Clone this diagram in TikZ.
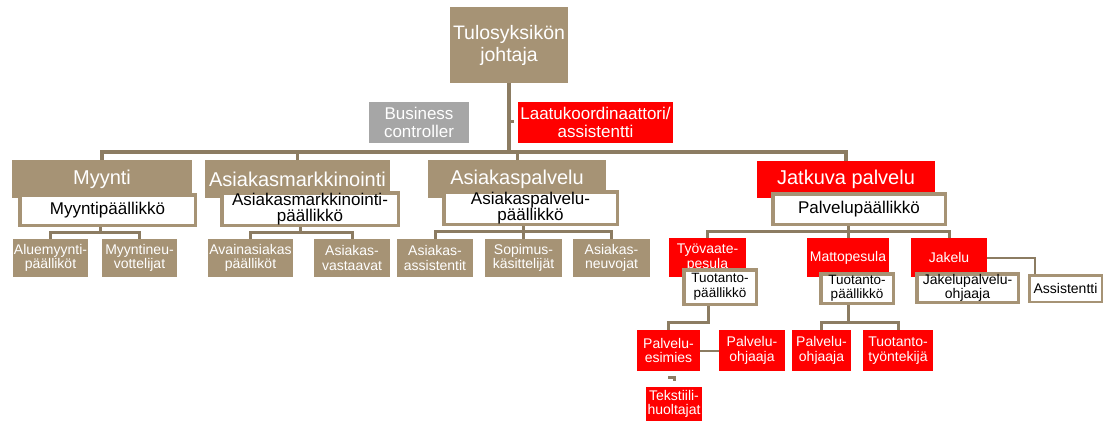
\documentclass[tikz,border=0pt]{standalone}
\usepackage{fontspec}
\setmainfont{Liberation Sans}
\usepackage{tikz}
\usetikzlibrary{shapes}
\definecolor{tan}{RGB}{166,147,117}
\definecolor{tanline}{RGB}{140,124,98}
\definecolor{bcgray}{RGB}{166,166,166}
\definecolor{red1}{RGB}{255,0,0}

\begin{document}
\begin{tikzpicture}[x=1pt,y=-1pt]
\useasboundingbox (0,0) rectangle (1111,423);
\tikzstyle{boxtan}=[rectangle, fill=tan, text=white, inner sep=0pt, align=center]
\tikzstyle{boxwhite}=[rectangle, draw=tan, fill=white, text=black, line width=3.5pt,
    inner sep=0pt, align=center]
\tikzstyle{line1}=[draw=tanline, line width=3pt]
\tikzstyle{top}=[font=\fontsize{19.5}{22}\selectfont]
\tikzstyle{big}=[font=\fontsize{20}{22}\selectfont]
\tikzstyle{mid}=[font=\fontsize{17}{18}\selectfont]
\tikzstyle{mid2}=[font=\fontsize{17}{16.5}\selectfont]
\tikzstyle{small}=[font=\fontsize{14}{14.5}\selectfont]
\tikzstyle{small2}=[font=\fontsize{13.5}{14.5}\selectfont]

% top
\node[boxtan, top, minimum width = 118pt,
    minimum height = 76pt] (t) at (509,45) {Tulosyksikön\\johtaja};
\node[boxtan, fill=bcgray, mid, minimum width = 100pt,
    minimum height = 41pt] (bc) at (419,122.5) {Business\\controller};
\node[boxtan, fill=red1, mid, minimum width = 155pt,
    minimum height = 41pt] (lk) at (595.5,122.5) {Laatukoordinaattori/\\assistentti};

% units
\node[boxtan, big, minimum width = 180pt,
    minimum height = 38pt] (h1) at (102,179) {Myynti};
\node[boxtan, big, minimum width = 185pt,
    minimum height = 38pt] (h2) at (297.5,179) {Asiakasmarkkinointi};
\node[boxtan, big, minimum width = 178pt,
    minimum height = 38pt] (h3) at (517,179) {Asiakaspalvelu};
\node[boxtan, fill=red1, big, minimum width = 178pt,
    minimum height = 37pt] (h4) at (846,179.5) {Jatkuva palvelu};

\node[boxwhite, mid, minimum width = 175.5pt,
    minimum height = 30.5pt] (m1) at (107.5,210) {Myyntipäällikkö};
\node[boxwhite, mid2, minimum width = 176.5pt,
    minimum height = 32.5pt] (m2) at (310,209) {Asiakasmarkkinointi-\\päällikkö};
\node[boxwhite, mid2, minimum width = 173.5pt,
    minimum height = 32.5pt] (m3) at (530.5,208) {Asiakaspalvelu-\\päällikkö};
\node[boxwhite, mid, minimum width = 172.5pt,
    minimum height = 30.5pt] (m4) at (859,209) {Palvelupäällikkö};

% leaves
\node[boxtan, small, minimum width = 75pt,
    minimum height = 38pt] (l1) at (50.5,258) {Aluemyynti-\\päälliköt};
\node[boxtan, small, minimum width = 75pt,
    minimum height = 38pt] (l2) at (139.5,258) {Myyntineu-\\vottelijat};
\node[boxtan, small, minimum width = 85pt,
    minimum height = 38pt] (l3) at (250.5,258) {Avainasiakas\\päälliköt};
\node[boxtan, small, minimum width = 76pt,
    minimum height = 38pt] (l4) at (352,258) {Asiakas-\\vastaavat};
\node[boxtan, small, minimum width = 76pt,
    minimum height = 38pt] (l5) at (435,258) {Asiakas-\\assistentit};
\node[boxtan, small, minimum width = 77pt,
    minimum height = 38pt] (l6) at (523.5,258) {Sopimus-\\käsittelijät};
\node[boxtan, small, minimum width = 77pt,
    minimum height = 38pt] (l7) at (611.5,258) {Asiakas-\\neuvojat};

\node[boxtan, fill=red1, small, minimum width = 77pt,
    minimum height = 39pt] (r1) at (707.5,257.5) {Työvaate-\\pesula};
\node[boxtan, fill=red1, small, minimum width = 82pt,
    minimum height = 39pt] (r2) at (848,257.5) {Mattopesula};
\node[boxtan, fill=red1, small, minimum width = 76pt,
    minimum height = 39pt] (r3) at (949,257.5) {Jakelu};

\node[boxwhite, small2, minimum width = 72.5pt,
    minimum height = 34.5pt] (s1) at (720,287) {Tuotanto-\\päällikkö};
\node[boxwhite, small2, minimum width = 72.5pt,
    minimum height = 29.5pt] (s2) at (857,288.5) {Tuotanto-\\päällikkö};
\node[boxwhite, small, minimum width = 101.5pt,
    minimum height = 28.5pt] (s3) at (967.5,288) {Jakelupalvelu-\\ohjaaja};
\node[boxwhite, small, line width=2.5pt, minimum width = 72.5pt,
    minimum height = 26.5pt] (s4) at (1065.5,288.5) {Assistentti};

\node[boxtan, fill=red1, small, minimum width = 63pt,
    minimum height = 41pt] (p1) at (668.5,350.5) {Palvelu-\\esimies};
\node[boxtan, fill=red1, small, minimum width = 66pt,
    minimum height = 41pt] (p2) at (752,350.5) {Palvelu-\\ohjaaja};
\node[boxtan, fill=red1, small, minimum width = 59pt,
    minimum height = 41pt] (p4) at (821.5,350.5) {Palvelu-\\ohjaaja};
\node[boxtan, fill=red1, small, minimum width = 70pt,
    minimum height = 41pt] (p5) at (898,350.5) {Tuotanto-\\työntekijä};
\node[boxtan, fill=red1, small, minimum width = 56pt,
    minimum height = 34pt] (p3) at (674,404) {Tekstiili-\\huoltajat};

% lines
\coordinate (bar) at (509,152);
\draw[line1, line width=3.5pt] (t.south) -- (bar);
\draw[line1, line width=3.5pt] (h1.north) |- (bar) -| (h4.north);
\draw[line1] (h2.north) -- (h2.north |- bar);
\draw[line1] (h3.north) -- (h3.north |- bar);
\coordinate (lt) at (514,121.5);
\draw[line1] (lt -| bar) -- (lt);

\coordinate (b1) at (100,232);
\draw[line1] (l1.north) |- (b1) -| (l2.north);
\draw[line1] (m1.south -| b1) -- (b1);
\coordinate (b2) at (300,232);
\draw[line1] (l3.north) |- (b2) -| (l4.north);
\draw[line1] (m2.south -| b2) -- (b2);
\coordinate (b3) at (523.5,231);
\draw[line1] (l5.north) |- (b3) -| (l7.north);
\draw[line1] (m3.south -| b3) -- (l6.north);
\coordinate (b4) at (848,231);
\draw[line1] (r1.north) |- (b4) -| (r3.north);
\draw[line1] (m4.south -| b4) -- (r2.north);

\coordinate (c1) at (1035,258);
\draw[line1, line width=2pt] (r3.east) -| (s4.north -| c1);

\coordinate (b5) at (708,322);
\draw[line1] (s1.south -| b5) -- (b5) -| (p1.north);
\coordinate (b6) at (848,322);
\draw[line1] (s2.south -| b6) -- (b6);
\draw[line1] (p4.north) |- (b6) -| (p5.north);
\draw[line1, line width=2pt] (p1.east) -- (p2.west);
\coordinate (k1) at (668,377);
\coordinate (k2) at (674,381);
\draw[line1] (k1) -| (k2);
\end{tikzpicture}
\end{document}
